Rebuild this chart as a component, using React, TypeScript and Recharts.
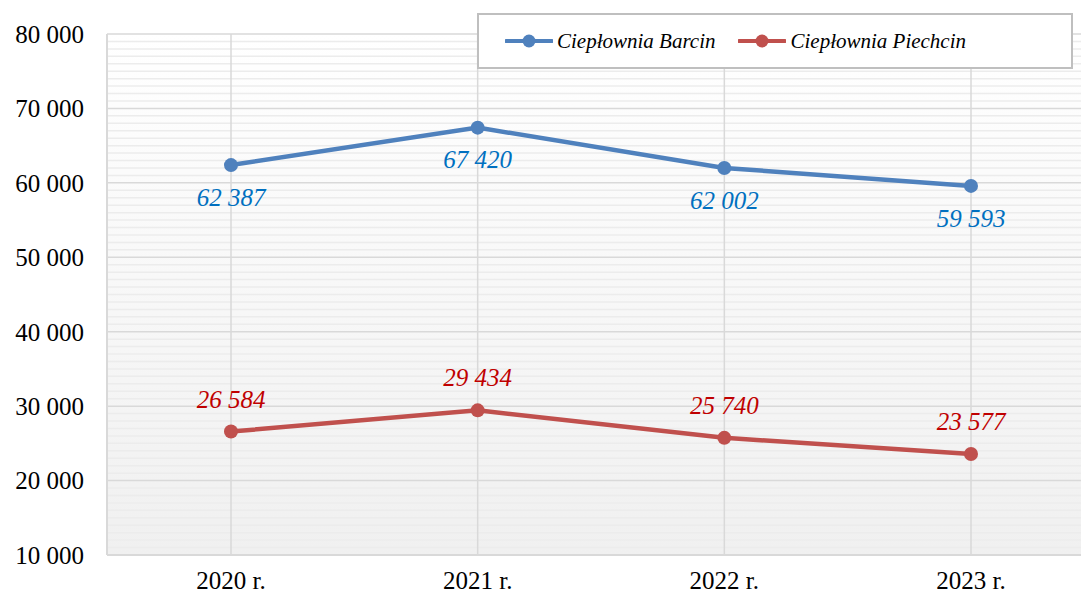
import React from 'react';
import { LineChart, Line, XAxis, YAxis, CartesianGrid, LabelList } from 'recharts';

const years = ['2020 r.', '2021 r.', '2022 r.', '2023 r.'];
const barcin = [62387, 67420, 62002, 59593];
const piechcin = [26584, 29434, 25740, 23577];
const yTicks = [10000, 20000, 30000, 40000, 50000, 60000, 70000, 80000];

const data = years.map((year, i) => ({ year, barcin: barcin[i], piechcin: piechcin[i] }));

// light minor grid every 1000
const minorTicks: number[] = [];
for (let v = 11000; v < 80000; v += 1000) if (v % 10000 !== 0) minorTicks.push(v);

const FONT = '"Liberation Serif", serif';
const fmtSpace = (v: number) => String(v).replace(/\B(?=(\d{3})+(?!\d))/g, ' ');

const legendItems = [
  { name: 'Ciepłownia Barcin', color: '#4f81bd' },
  { name: 'Ciepłownia Piechcin', color: '#c0504d' },
];

const LegendBox = () => (
  <div
    style={{
      position: 'absolute',
      left: 477,
      top: 13,
      width: 592,
      height: 52,
      border: '2px solid #bfbfbf',
      background: '#fff',
      display: 'flex',
      alignItems: 'center',
      fontFamily: FONT,
      fontStyle: 'italic',
      fontSize: 21,
      color: '#000',
    }}
  >
    {legendItems.map((it, i) => (
      <div key={it.name} style={{ display: 'flex', alignItems: 'center', marginLeft: i === 0 ? 26 : 23 }}>
        <svg width={48} height={14} style={{ marginRight: 4 }}>
          <line x1={1} y1={7} x2={47} y2={7} stroke={it.color} strokeWidth={4} strokeLinecap="round" />
          <circle cx={24} cy={7} r={6.5} fill={it.color} />
        </svg>
        <span>{it.name}</span>
      </div>
    ))}
  </div>
);

export default function App() {
  return (
    <div style={{ position: 'absolute', left: 0, top: 0, width: 1081, height: 594, overflow: 'hidden', background: '#fff' }}>
      <LineChart
        width={1100}
        height={594}
        data={data}
        margin={{ top: 34, right: 6, left: 0, bottom: 0 }}
      >
        <defs>
          <linearGradient id="bgGrad" x1="0" y1="0" x2="0" y2="1">
            <stop offset="0%" stopColor="#ffffff" />
            <stop offset="100%" stopColor="#f0f0f0" />
          </linearGradient>
        </defs>
        <CartesianGrid
          fill="url(#bgGrad)"
          vertical={false}
          horizontalValues={minorTicks}
          stroke="#ececec"
          strokeWidth={1.5}
        />
        <CartesianGrid
          horizontalValues={yTicks}
          stroke="#d9d9d9"
          strokeWidth={1.5}
        />
        <XAxis
          dataKey="year"
          height={39}
          padding={{ left: 124, right: 123 }}
          axisLine={{ stroke: '#d9d9d9', strokeWidth: 2 }}
          tickLine={false}
          tickSize={0}
          tickMargin={16}
          tick={{ fontFamily: FONT, fontSize: 25, fill: '#000' }}
        />
        <YAxis
          domain={[10000, 80000]}
          ticks={yTicks}
          width={107}
          axisLine={{ stroke: '#d9d9d9', strokeWidth: 2 }}
          tickLine={false}
          tickSize={0}
          tickMargin={23}
          interval={0}
          tickFormatter={fmtSpace}
          tick={{ fontFamily: FONT, fontSize: 25, fill: '#000' }}
        />
        <Line
          dataKey="barcin"
          name="Ciepłownia Barcin"
          stroke="#4f81bd"
          strokeWidth={4.5}
          dot={{ r: 7, fill: '#4f81bd', stroke: '#4f81bd', strokeWidth: 0 }}
          isAnimationActive={false}
        >
          <LabelList
            dataKey="barcin"
            position="bottom"
            offset={23}
            formatter={(v: any) => fmtSpace(Number(v))}
            style={{ fontFamily: FONT, fontStyle: 'italic', fontSize: 25, fill: '#0070c0' }}
          />
        </Line>
        <Line
          dataKey="piechcin"
          name="Ciepłownia Piechcin"
          stroke="#c0504d"
          strokeWidth={4.5}
          dot={{ r: 7, fill: '#c0504d', stroke: '#c0504d', strokeWidth: 0 }}
          isAnimationActive={false}
        >
          <LabelList
            dataKey="piechcin"
            position="top"
            offset={24}
            formatter={(v: any) => fmtSpace(Number(v))}
            style={{ fontFamily: FONT, fontStyle: 'italic', fontSize: 25, fill: '#c00000' }}
          />
        </Line>
      </LineChart>
      <LegendBox />
    </div>
  );
}
